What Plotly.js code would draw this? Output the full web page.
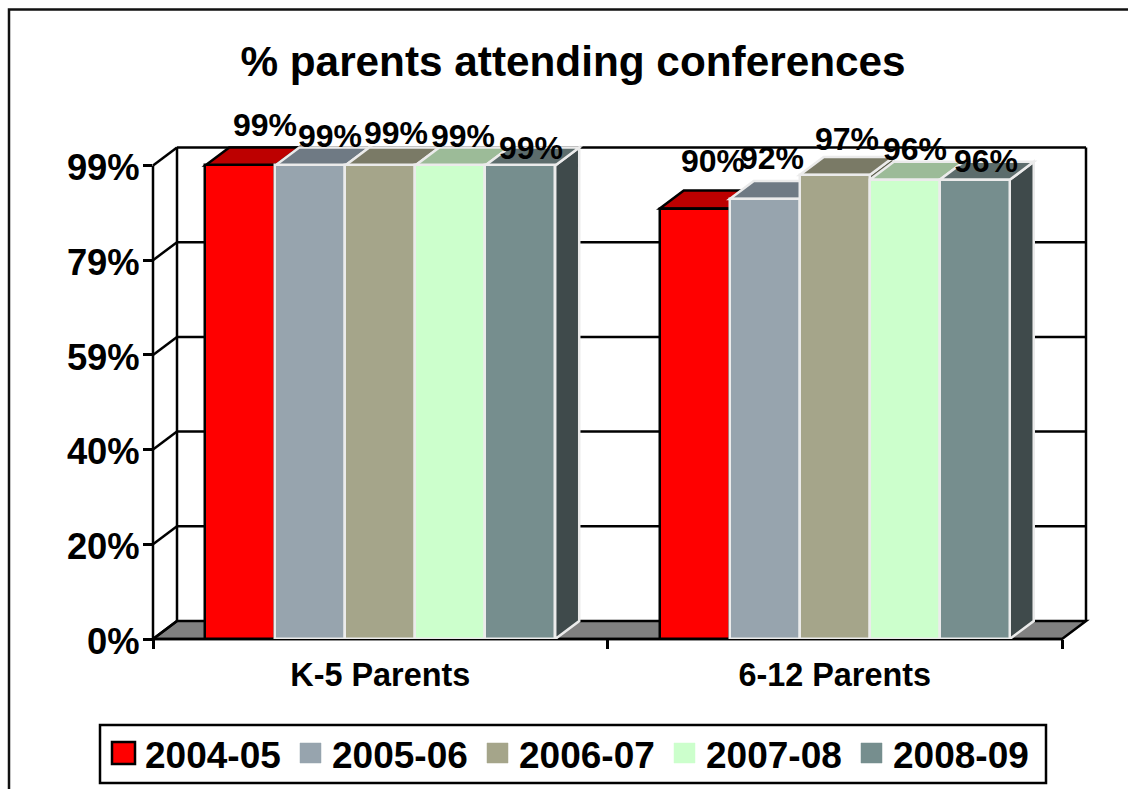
<!DOCTYPE html>
<html><head><meta charset="utf-8">
<script src="https://cdn.plot.ly/plotly-3.0.1.min.js"></script>
<style>html,body{margin:0;padding:0;background:#fff;overflow:hidden}</style>
</head><body><div id="chart" style="width:1128px;height:789px"></div>
<script>
// ---- data ----
const categories = ['K-5 Parents', '6-12 Parents'];
const seriesNames = ['2004-05', '2005-06', '2006-07', '2007-08', '2008-09'];
const values2004 = [99, 90];
const values2005 = [99, 92];
const values2006 = [99, 97];
const values2007 = [99, 96];
const values2008 = [99, 96];
const yTickValues = [0, 19.8, 39.6, 59.4, 79.2, 99];
const yTickLabels = ['0%', '20%', '40%', '59%', '79%', '99%'];

// ---- styles ----
const allValues = [values2004, values2005, values2006, values2007, values2008];
const frontColors = ['#ff0000', '#97a4ae', '#a5a58a', '#ccffcc', '#768e8e'];
const topColors = ['#bd0000', '#6f7a84', '#7a7a66', '#9cbb98', '#5c6c6c'];
const sideColors = ['#800000', '#4f5860', '#5c5c4c', '#7c967a', '#3f4a4b'];
const edgeColors = ['#000000', '#ebebeb', '#ebebeb', '#ebebeb', '#ebebeb'];
const labelNudgeX = [[25, 18], [20, 7], [16, 12], [13, 10], [11, 11]];
const labelNudgeY = [[40, 48], [29, 41], [32, 36], [29, 31], [17, 19]];

const W = 1128, H = 789, L = 153, R = 1092, T = 142, B = 639;
const pxPerCat = 454.5, pxPerPct = 4.783;
const depthX = 24 / pxPerCat, depthY = 18 / pxPerPct, groupW = 0.77, barW = groupW / 5;
const xMin = -0.5, xMax = xMin + (R - L) / pxPerCat, yMax = (B - T) / pxPerPct;
const xEnd = 1.5 + depthX;
const px = v => (v - L) / (R - L), py = v => (B - v) / (B - T);
const dx = v => (v - xMin) / (xMax - xMin), dy = v => v / yMax;
const ink = {color: '#000', width: 2.5};
const font = (size) => ({family: '"Liberation Sans", Arial, sans-serif', size, color: '#000', weight: 'bold'});

const traces = allValues.map((vals, i) => ({
  type: 'bar', name: seriesNames[i], x: [0, 1], y: vals, width: barW,
  offset: (i - 2.5) * barW,
  marker: {color: frontColors[i], line: {color: edgeColors[i], width: 2.5}},
  hoverinfo: 'name+y', cliponaxis: false
}));

const poly = (pts, fill, line) => ({
  type: 'shape', xref: 'x', yref: 'y', layer: 'below', fillcolor: fill, line,
  path: 'M' + pts.map(p => p[0] + ',' + p[1]).join('L') + 'Z'
});
// wall lines are unclipped (paper reference), positioned through the axis ranges
const seg = (x0, y0, x1, y1) => ({type: 'line', xref: 'paper', yref: 'paper', layer: 'below',
  x0: dx(x0), y0: dy(y0), x1: dx(x1), y1: dy(y1), line: ink});

const shapes = [];
// floor
shapes.push({type: 'path', xref: 'paper', yref: 'paper', layer: 'below', fillcolor: '#808080', line: ink,
  path: `M${dx(xMin)},${dy(0)}L${dx(xMin + depthX)},${dy(depthY)}L${dx(xEnd)},${dy(depthY)}L${dx(1.5)},${dy(0)}Z`});
// walls and grid
yTickValues.forEach(v => {
  if (v > 0) shapes.push(seg(xMin + depthX, v + depthY, xEnd, v + depthY));
  shapes.push(seg(xMin, v, xMin + depthX, v + depthY));
});
shapes.push(seg(xMin, 0, xMin, 99));
shapes.push(seg(xMin + depthX, depthY, xMin + depthX, 99 + depthY));
shapes.push(seg(xEnd, depthY, xEnd, 99 + depthY));
shapes.push(seg(xMin, 0, 1.5, 0));
// bar top and side faces
categories.forEach((c, k) => {
  allValues.forEach((vals, i) => {
    const x0 = k + (i - 2.5) * barW, x1 = x0 + barW, v = vals[k];
    const edge = {color: edgeColors[i], width: 2.5};
    shapes.push(poly([[x1, 0], [x1 + depthX, depthY], [x1 + depthX, v + depthY], [x1, v]], sideColors[i], edge));
    shapes.push(poly([[x0, v], [x0 + depthX, v + depthY], [x1 + depthX, v + depthY], [x1, v]], topColors[i], edge));
  });
});
// outer frame (open at right and bottom)
shapes.push({type: 'path', xref: 'paper', yref: 'paper', layer: 'above', line: {color: '#111', width: 2.5},
  path: `M${px(9)},${py(800)}L${px(9)},${py(9.5)}L${px(1135)},${py(9.5)}`});
// legend box and swatches
shapes.push({type: 'rect', xref: 'paper', yref: 'paper', layer: 'above', line: {color: '#000', width: 2.5},
  fillcolor: 'rgba(0,0,0,0)', x0: px(100), x1: px(1046), y0: py(725), y1: py(783)});

const annotations = [];
categories.forEach((c, k) => {
  allValues.forEach((vals, i) => {
    annotations.push({xref: 'x', yref: 'y', x: k + (i - 2) * barW, y: vals[k], text: vals[k] + '%',
      showarrow: false, xanchor: 'center', yanchor: 'middle',
      xshift: labelNudgeX[i][k], yshift: labelNudgeY[i][k], font: font(32)});
  });
});
seriesNames.forEach((name, i) => {
  const sx = 113 + 187 * i, grow = i === 0 ? 1 : 0;
  shapes.push({type: 'rect', xref: 'paper', yref: 'paper', layer: 'above', fillcolor: frontColors[i],
    line: {color: i === 0 ? '#000' : frontColors[i], width: i === 0 ? 2.5 : 0.5},
    x0: px(sx - grow), x1: px(sx + 21 + grow), y0: py(743 - grow), y1: py(763 + grow)});
  annotations.push({xref: 'paper', yref: 'paper', x: px(143 + 187 * i), y: py(755), text: name,
    showarrow: false, xanchor: 'left', yanchor: 'middle', font: font(37)});
});

const layout = {
  width: W, height: H, showlegend: false, bargap: 0, plot_bgcolor: 'rgba(0,0,0,0)', paper_bgcolor: '#fff',
  margin: {l: L, r: W - R, t: T, b: H - B, pad: 0},
  title: {text: '% parents attending conferences', font: font(42.3), xref: 'container', yref: 'container',
    x: 573 / W, xanchor: 'center', y: 1 - 61 / H, yanchor: 'middle'},
  xaxis: {range: [xMin, xMax], tickvals: [0, 1], ticktext: categories, ticks: '', showgrid: false, zeroline: false,
    showline: false, tickfont: font(32.4), ticklabelstandoff: 14,
    minor: {tickvals: [-0.5, 0.5, 1.5], ticks: 'outside', ticklen: 9, tickwidth: 2.5, tickcolor: '#000', showgrid: false}},
  yaxis: {range: [0, yMax], tickvals: yTickValues, ticktext: yTickLabels, ticks: 'outside', ticklen: 9, tickwidth: 2.5,
    tickcolor: '#000', showgrid: false, zeroline: false, showline: false, tickfont: font(36.4),
    ticklabelstandoff: -4, ticklabelshift: 2},
  shapes, annotations
};
Plotly.newPlot('chart', traces, layout, {displayModeBar: false, responsive: false});
</script></body></html>
